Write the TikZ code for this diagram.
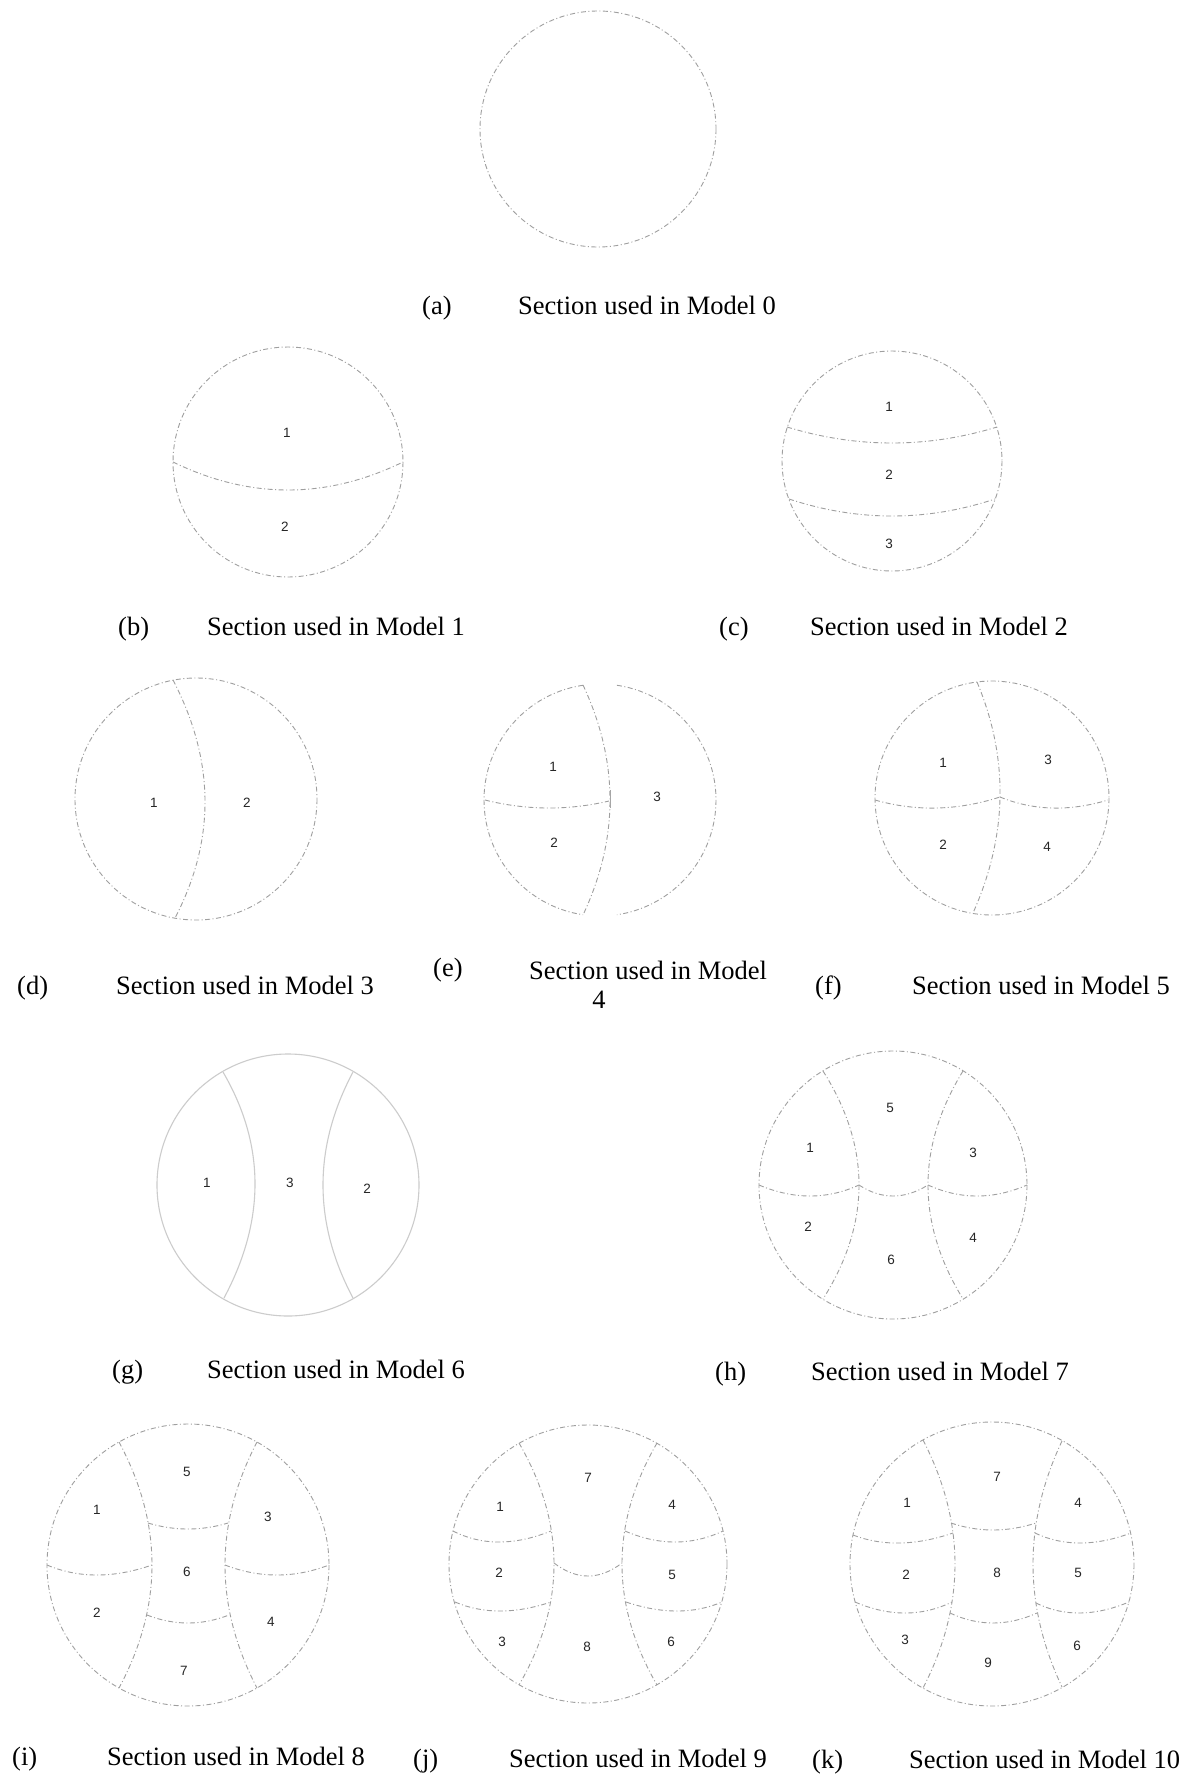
\documentclass[tikz,border=0pt]{standalone}
\usepackage{fontspec}
\setmainfont{Liberation Serif}
\newfontfamily\lblfont{Liberation Sans}
\usetikzlibrary{calc}
\tikzset{
  sec/.style={draw=gray!75, line width=0.9pt, dash pattern=on 5pt off 2.5pt on 1pt off 2.5pt},
  solidsec/.style={draw=gray!40, line width=1.1pt},
  captxt/.style={anchor=base west, inner sep=0pt, font=\fontsize{26.5}{30}\selectfont},
  num/.style={inner sep=0pt, font=\lblfont\fontsize{13.5}{13.5}\selectfont, text=gray!30!black},
}
% curve from #2 through #3 (at the middle) to #4
\newcommand\qc[4][sec]{\draw[#1] (#2) .. controls ($1.33333*(#3)-0.33333*(#4)$) and ($1.33333*(#3)-0.33333*(#2)$) .. (#4);}
\begin{document}
\begin{tikzpicture}[x=1pt,y=-1pt]
\useasboundingbox[fill=white] (0,0) rectangle (1189,1778);

% ---------- (a) Model 0
\draw[sec] (598,129) circle[radius=118];
\node[captxt] (ca) at (422,314) {(a)};
\node[captxt] (ta) at (518,314) {Section used in Model 0};

% ---------- (b) Model 1
\draw[sec] (288,462) circle[radius=115];
\qc{173,462}{288,490}{403,462}
\node[num] (b1) at (287,433) {1};
\node[num] (b2) at (285,527) {2};
\node[captxt] (cb) at (118,635) {(b)};
\node[captxt] (tb) at (207,635) {Section used in Model 1};

% ---------- (c) Model 2
\draw[sec] (892,461) circle[radius=110];
\qc{787,427}{892,443}{997,427}
\qc{789,499}{892,516}{995,499}
\node[num] (c1) at (889,407) {1};
\node[num] (c2) at (889,475) {2};
\node[num] (c3) at (889,544) {3};
\node[captxt] (cc) at (719,635) {(c)};
\node[captxt] (tc) at (810,635) {Section used in Model 2};

% ---------- (d) Model 3
\draw[sec] (196,799) circle[radius=121];
\qc{173,680}{205,800}{175,918}
\node[num] (d1) at (154,803) {1};
\node[num] (d2) at (247,803) {2};
\node[captxt] (cd) at (17,994) {(d)};
\node[captxt] (td) at (116,994) {Section used in Model 3};

% ---------- (e) Model 4
\draw[sec] (600,800) ++(261.6:116) arc[start angle=261.6, end angle=98.4, radius=116];
\draw[sec] (600,800) ++(-81.6:116) arc[start angle=-81.6, end angle=81.6, radius=116];
\qc{583,685}{610,800}{583,915}
\qc{485,800}{547,808}{609,801}
\draw[gray!70, line width=0.9pt] (610,790) -- (610,808);
\node[num] (e1) at (553,767) {1};
\node[num] (e2) at (554,843) {2};
\node[num] (e3) at (657,797) {3};
\node[captxt] (ce) at (433,976) {(e)};
\node[captxt] (te) at (529,979) {Section used in Model};
\node[anchor=base, inner sep=0pt, font=\fontsize{26.5}{30}\selectfont] (te2) at (599,1008) {4};

% ---------- (f) Model 5
\draw[sec] (992,798) circle[radius=117];
\qc{977,682}{1000,797}{973,913}
\qc{875,800}{937,808}{1000,797}
\qc{1000,797}{1052,808}{1108,800}
\node[num] (f1) at (943,763) {1};
\node[num] (f3) at (1048,760) {3};
\node[num] (f2) at (943,845) {2};
\node[num] (f4) at (1047,847) {4};
\node[captxt] (cf) at (815,994) {(f)};
\node[captxt] (tf) at (912,994) {Section used in Model 5};

% ---------- (g) Model 6
\draw[solidsec] (288,1185) circle[radius=131];
\qc[solidsec]{223,1072}{255,1183}{224,1298}
\qc[solidsec]{353,1072}{323,1185}{353,1298}
\node[num] (g1) at (207,1183) {1};
\node[num] (g3) at (290,1183) {3};
\node[num] (g2) at (367,1189) {2};
\node[captxt] (cg) at (112,1378) {(g)};
\node[captxt] (tg) at (207,1378) {Section used in Model 6};

% ---------- (h) Model 7
\draw[sec] (893,1185) circle[radius=134];
\qc{823,1071}{859,1185}{823,1299}
\qc{963,1071}{928,1185}{963,1299}
\qc{759,1185}{810,1196}{859,1185}
\qc{859,1185}{893,1196}{928,1185}
\qc{928,1185}{977,1196}{1027,1185}
\node[num] (h5) at (890,1108) {5};
\node[num] (h1) at (810,1148) {1};
\node[num] (h3) at (973,1153) {3};
\node[num] (h2) at (808,1227) {2};
\node[num] (h4) at (973,1238) {4};
\node[num] (h6) at (891,1260) {6};
\node[captxt] (ch) at (715,1380) {(h)};
\node[captxt] (th) at (811,1380) {Section used in Model 7};

% ---------- (i) Model 8
\draw[sec] (188,1565) circle[radius=141];
\qc{119,1442}{152,1565}{119,1688}
\qc{257,1442}{225,1565}{257,1688}
\qc{148,1523}{188,1529}{228,1523}
\qc{147,1615}{188,1623}{229,1615}
\qc{47,1565}{97,1575}{152,1565}
\qc{225,1565}{277,1575}{329,1565}
\node[num] (i5) at (187,1472) {5};
\node[num] (i1) at (97,1510) {1};
\node[num] (i3) at (268,1517) {3};
\node[num] (i6) at (187,1572) {6};
\node[num] (i2) at (97,1613) {2};
\node[num] (i4) at (271,1622) {4};
\node[num] (i7) at (184,1671) {7};
\node[captxt] (ci) at (12,1765) {(i)};
\node[captxt] (ti) at (107,1765) {Section used in Model 8};

% ---------- (j) Model 9
\draw[sec] (588,1564) circle[radius=139];
\qc{519,1443}{554,1564}{519,1685}
\qc{657,1443}{622,1564}{657,1685}
\qc{554,1563}{588,1576}{622,1563}
\qc{453,1531}{499,1542}{551,1531}
\qc{455,1602}{500,1611}{551,1602}
\qc{625,1531}{675,1542}{723,1531}
\qc{626,1602}{677,1611}{722,1602}
\node[num] (j7) at (588,1478) {7};
\node[num] (j1) at (500,1507) {1};
\node[num] (j4) at (672,1505) {4};
\node[num] (j2) at (499,1573) {2};
\node[num] (j5) at (672,1575) {5};
\node[num] (j3) at (502,1642) {3};
\node[num] (j8) at (587,1647) {8};
\node[num] (j6) at (671,1642) {6};
\node[captxt] (cj) at (413,1767) {(j)};
\node[captxt] (tj) at (509,1767) {Section used in Model 9};

% ---------- (k) Model 10
\draw[sec] (992,1564) circle[radius=142];
\qc{923,1440}{955,1564}{923,1688}
\qc{1062,1441}{1033,1564}{1062,1687}
\qc{951,1523}{993,1530}{1036,1523}
\qc{950,1613}{993,1623}{1037,1613}
\qc{853,1535}{900,1543}{953,1533}
\qc{855,1602}{905,1613}{952,1602}
\qc{1035,1533}{1080,1543}{1131,1533}
\qc{1036,1603}{1080,1613}{1129,1602}
\node[num] (k7) at (997,1477) {7};
\node[num] (k1) at (907,1503) {1};
\node[num] (k4) at (1078,1503) {4};
\node[num] (k2) at (906,1575) {2};
\node[num] (k8) at (997,1573) {8};
\node[num] (k5) at (1078,1573) {5};
\node[num] (k3) at (905,1640) {3};
\node[num] (k9) at (988,1663) {9};
\node[num] (k6) at (1077,1646) {6};
\node[captxt] (ck) at (812,1768) {(k)};
\node[captxt] (tk) at (909,1768) {Section used in Model 10};
\end{tikzpicture}
\end{document}
